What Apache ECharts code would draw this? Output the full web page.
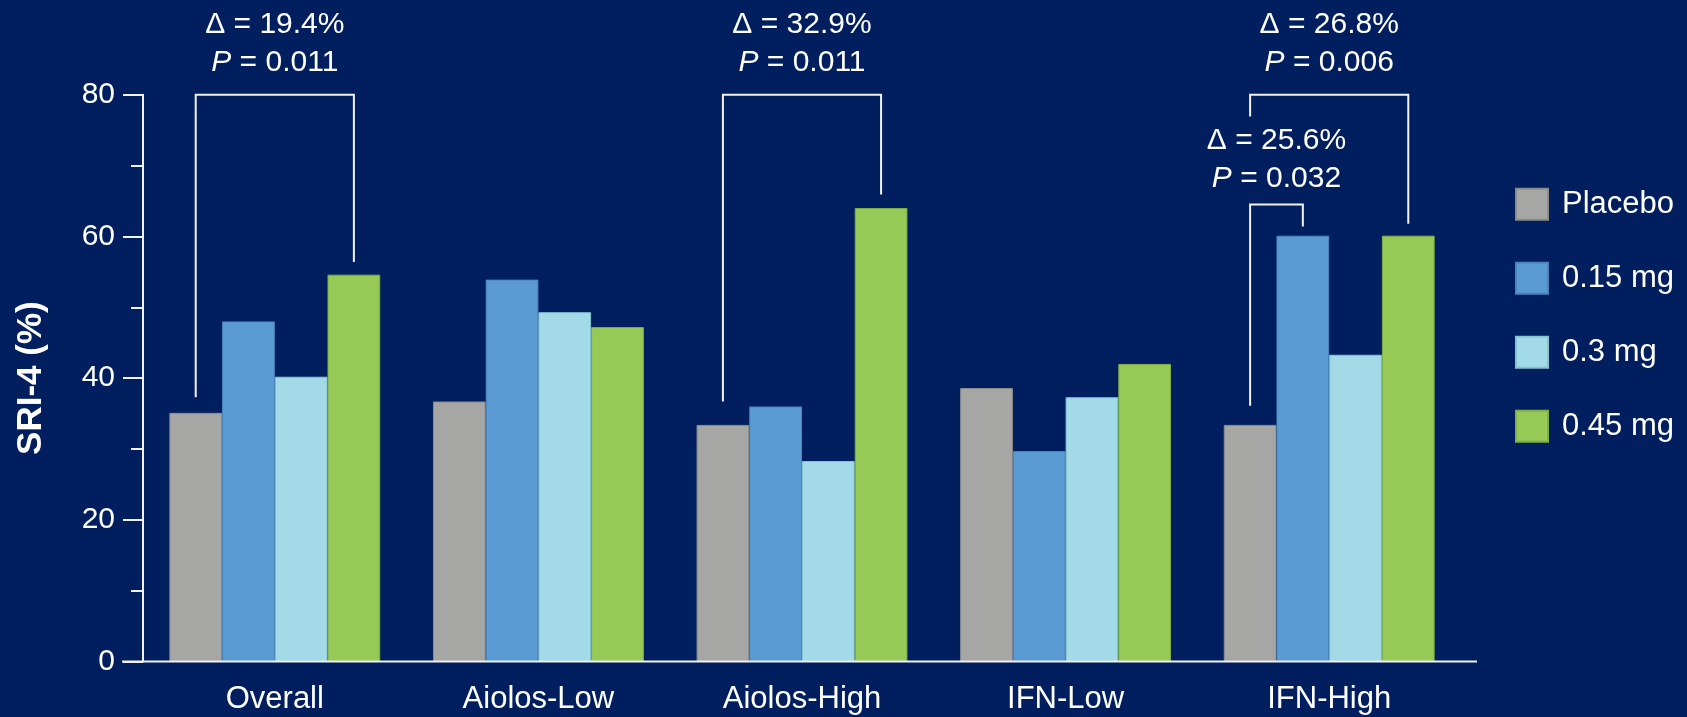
<!DOCTYPE html>
<html>
<head>
<meta charset="utf-8">
<script src="https://cdn.jsdelivr.net/npm/echarts@6/dist/echarts.min.js"></script>
<style>
  html, body { margin: 0; padding: 0; background: #011f5e; }
  #chart { width: 1687px; height: 717px; }
</style>
</head>
<body>
<div id="chart"></div>
<script>
// ---- data ----
const categories = ['Overall', 'Aiolos-Low', 'Aiolos-High', 'IFN-Low', 'IFN-High'];
const seriesNames = ['Placebo', '0.15 mg', '0.3 mg', '0.45 mg'];
const placebo = [35.1, 36.7, 33.4, 38.6, 33.4];
const dose015 = [48.0, 53.9, 36.0, 29.7, 60.1];
const dose03  = [40.2, 49.3, 28.3, 37.3, 43.3];
const dose045 = [54.6, 47.2, 64.0, 42.0, 60.1];
const yTicks = [0, 20, 40, 60, 80];

// significance brackets
const bracketCategory   = [0, 2, 4, 4];
const bracketFromSeries = [0, 0, 0, 0];
const bracketToSeries   = [3, 3, 3, 1];
const bracketTop        = [80, 80, 80, 64.5];
const bracketLeftEnd    = [37.3, 36.7, 76.9, 36.1];
const bracketRightEnd   = [56.4, 65.9, 61.8, 61.4];
const deltaLabels = ['19.4%', '32.9%', '26.8%', '25.6%'];
const pLabels     = ['0.011', '0.011', '0.006', '0.032'];

// ---- styles ----
const colors = ['#a6a6a5', '#5b9bd4', '#a2dbe7', '#97c957'];
const borders = ['#8c8c8c', '#4a86bd', '#86c3d3', '#7fb046'];
const labelLift = [13, 13, 13, 7];   // px gap between annotation text and bracket
const FONT = '"Liberation Sans", Arial, sans-serif';
const WHITE = '#ffffff';
const LINE = '#f2f2f2';
const CAT_GAP = 0.2;

const chart = echarts.init(document.getElementById('chart'), null, { renderer: 'canvas' });
const values = [placebo, dose015, dose03, dose045];

const barSeries = seriesNames.map((name, k) => ({
  name: name,
  type: 'bar',
  data: values[k],
  barGap: '0%',
  barCategoryGap: (CAT_GAP * 100) + '%',
  itemStyle: { color: colors[k], borderColor: borders[k], borderWidth: 1 },
  emphasis: { disabled: true },
  z: 2
}));

const bracketData = bracketCategory.map((c, i) => [c, bracketTop[i], bracketLeftEnd[i], bracketRightEnd[i], bracketFromSeries[i], bracketToSeries[i]]);

const bracketSeries = {
  type: 'custom',
  name: 'brackets',
  data: bracketData,
  clip: false,
  silent: true,
  z: 5,
  encode: { x: 0, y: 1 },
  renderItem: function (params, api) {
    const c = api.value(0);
    const top = api.value(1);
    const lEnd = api.value(2);
    const rEnd = api.value(3);
    const fromK = api.value(4);
    const toK = api.value(5);
    const band = api.size([1, 0])[0];
    const barW = band * (1 - CAT_GAP) / 4;
    const center = api.coord([c, 0])[0];
    const xL = center + (fromK - 1.5) * barW;
    const xR = center + (toK - 1.5) * barW;
    const yTop = api.coord([c, top])[1];
    const yL = api.coord([c, lEnd])[1];
    const yR = api.coord([c, rEnd])[1];
    const i = params.dataIndex;
    return {
      type: 'group',
      children: [
        {
          type: 'polyline',
          shape: { points: [[xL, yL], [xL, yTop], [xR, yTop], [xR, yR]] },
          style: { stroke: LINE, lineWidth: 2, fill: null }
        },
        {
          type: 'text',
          x: (xL + xR) / 2,
          y: yTop - labelLift[i],
          style: {
            text: 'Δ = ' + deltaLabels[i] + '\n{i|P} = ' + pLabels[i],
            fill: WHITE,
            fontFamily: FONT,
            fontSize: 30,
            lineHeight: 38,
            align: 'center',
            verticalAlign: 'bottom',
            rich: { i: { fontStyle: 'italic', fontSize: 30, fontFamily: FONT, fill: WHITE, lineHeight: 38 } }
          }
        }
      ]
    };
  }
};

const option = {
  backgroundColor: '#011f5e',
  animation: false,
  textStyle: { fontFamily: FONT },
  grid: { left: 143, right: 226, top: 94.65, bottom: 55.4, containLabel: false },
  legend: {
    data: seriesNames,
    orient: 'vertical',
    left: 1510,
    top: 182.7,
    itemWidth: 32,
    itemHeight: 31,
    itemGap: 41,
    icon: 'rect',
    selectedMode: false,
    textStyle: { color: WHITE, fontSize: 31, fontFamily: FONT, padding: [0, 0, 0, 9] }
  },
  xAxis: {
    type: 'category',
    data: categories,
    axisLine: { show: false },
    axisTick: { show: false },
    axisLabel: { color: WHITE, fontSize: 31, fontFamily: FONT, margin: 22 },
    splitLine: { show: false }
  },
  yAxis: {
    type: 'value',
    min: yTicks[0],
    max: yTicks[yTicks.length - 1],
    interval: yTicks[1] - yTicks[0],
    name: 'SRI-4 (%)',
    nameLocation: 'middle',
    nameGap: 94,
    nameRotate: 90,
    nameTextStyle: { color: WHITE, fontSize: 35, fontWeight: 'bold', fontFamily: FONT },
    axisLine: { show: true, lineStyle: { color: LINE, width: 2 } },
    axisTick: { show: true, length: 20, lineStyle: { color: LINE, width: 2 } },
    minorTick: { show: true, splitNumber: 2, length: 12, lineStyle: { color: LINE, width: 2 } },
    axisLabel: { color: WHITE, fontSize: 30, fontFamily: FONT, margin: 28 },
    splitLine: { show: false },
    minorSplitLine: { show: false }
  },
  series: barSeries.concat([bracketSeries])
};

chart.setOption(option);

// x axis baseline (extends past the plot like the reference)
const x0 = chart.convertToPixel({ yAxisIndex: 0 }, 0);
const leftPx = chart.convertToPixel({ xAxisIndex: 0 }, categories[0]);
const rightPx = chart.convertToPixel({ xAxisIndex: 0 }, categories[categories.length - 1]);
const bandPx = (rightPx - leftPx) / (categories.length - 1);
chart.setOption({
  graphic: [{
    type: 'line',
    z: 10,
    shape: { x1: leftPx - bandPx / 2 - 21, y1: x0, x2: rightPx + bandPx / 2 + 16, y2: x0 },
    style: { stroke: LINE, lineWidth: 2 }
  }]
});
</script>
</body>
</html>
